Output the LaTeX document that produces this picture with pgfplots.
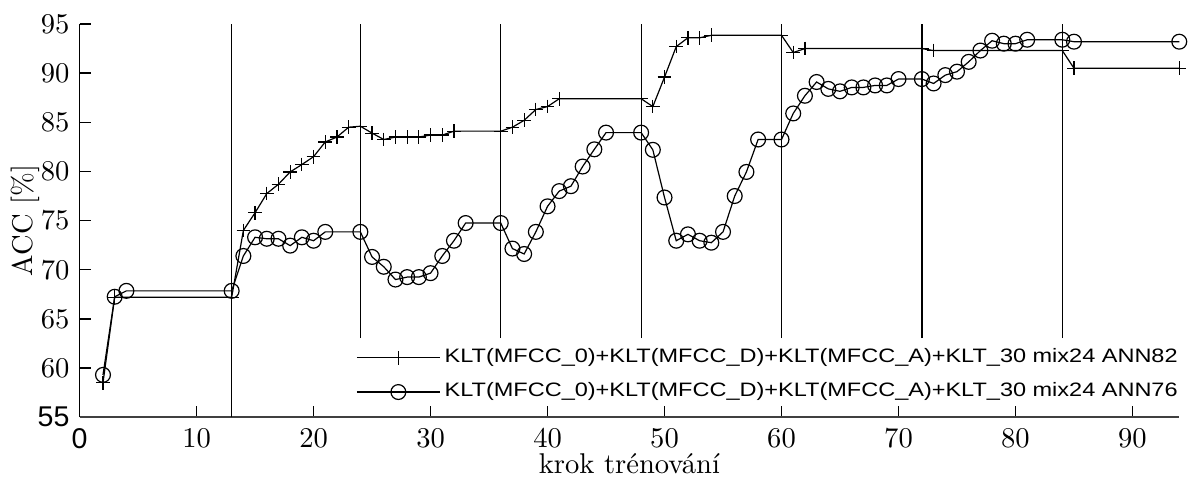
\documentclass[border=0pt]{standalone}
\usepackage{fontspec}
\usepackage{pgfplots}
\pgfplotsset{compat=1.18}
\newfontfamily\gpfont{Liberation Sans}
\newfontfamily\legfont[FakeStretch=1.21]{Liberation Sans}
\begin{document}
\begin{tikzpicture}
\path[use as bounding box] (-27.86pt,-21pt) rectangle (387.94pt,146pt);
\begin{axis}[
  at={(0,0)}, anchor=south west,
  scale only axis, width=384.9pt, height=137.6pt,
  xmin=0, xmax=94, ymin=55, ymax=95,
  axis lines=left, axis line style={-},
  x axis line style={line width=0.7pt, black!75},
  y axis line style={line width=0.5pt},
  tick align=inside, major tick length=3.9pt,
  tick style={black, line width=0.5pt},
  xtick={0,10,...,90}, ytick={55,60,...,95},
  xticklabels={{\gpfont 0},10,20,30,40,50,60,70,80,90},
  yticklabels={{\gpfont 55},60,65,70,75,80,85,90,95},
  xticklabel style={inner sep=0pt, yshift=-3.7pt},
  xlabel={krok trénování}, ylabel={ACC [\%]},
  every axis x label/.style={at={(rel axis cs:0.5,0)}, anchor=north, inner sep=0pt, yshift=-12.6pt},
  every axis y label/.style={at={(rel axis cs:0,0.5)}, rotate=90, anchor=center, yshift=19.1pt},
  legend cell align=left,
  legend style={at={(rel axis cs:1.003,0.187)}, anchor=north east, draw=none, fill=none,
    font=\legfont\fontsize{6.8}{8}\selectfont, row sep=2.6pt, inner sep=0pt,
    nodes={inner sep=1.5pt}},
  legend image code/.code={\draw[mark repeat=2,mark phase=2] plot coordinates {(0pt,0pt) (14.5pt,0pt) (29pt,0pt)};},
  clip=false,
]
\draw[line width=0.42pt] (axis cs:13,55) -- (axis cs:13,95);
\foreach \xx in {24,36,48,60,72,84} {
  \edef\tmp{\noexpand\draw[line width=0.42pt] (axis cs:\xx,63.05) -- (axis cs:\xx,95);}
  \tmp
}
\addplot[black, line width=0.42pt, mark=+, mark size=2.4pt] coordinates {
(2,58.5) (3,67.2) (13,67.2) (14,74.0) (15,75.8) (16,77.75) (17,78.7) (18,79.95) (19,80.7) (20,81.5)
(21,83.0) (22,83.5) (23,84.5) (24,84.6) (25,83.9) (26,83.25) (27,83.5) (28,83.5) (29,83.5) (30,83.7)
(31,83.7) (32,84.1) (36,84.1) (37,84.5) (38,85.2) (39,86.3) (40,86.6) (41,87.4) (48,87.4) (49,86.6)
(50,89.6) (51,92.7) (52,93.6) (53,93.6) (54,93.85) (60,93.85) (61,92.1) (62,92.5) (72,92.5) (73,92.3)
(84,92.3) (85,90.5) (94,90.5)
};
\addlegendentry{KLT(MFCC\_0)+KLT(MFCC\_D)+KLT(MFCC\_A)+KLT\_30 mix24 ANN82}
\addplot[black, line width=0.42pt, mark=o, mark size=2.6pt] coordinates {
(2,59.3) (3,67.25) (4,67.85) (13,67.85) (14,71.4) (15,73.3) (16,73.15) (17,73.15) (18,72.45) (19,73.3)
(20,72.95) (21,73.85) (24,73.85) (25,71.3) (26,70.3) (27,69.0) (28,69.25) (29,69.25) (30,69.65) (31,71.4)
(32,72.95) (33,74.75) (36,74.75) (37,72.15) (38,71.6) (39,73.85) (40,76.45) (41,78.0) (42,78.5) (43,80.5)
(44,82.25) (45,83.95) (48,83.95) (49,82.2) (50,77.35) (51,72.95) (52,73.6) (53,72.95) (54,72.75) (55,73.85)
(56,77.5) (57,79.95) (58,83.25) (60,83.25) (61,85.9) (62,87.7) (63,89.1) (64,88.4) (65,88.15) (66,88.55)
(67,88.55) (68,88.75) (69,88.75) (70,89.4) (72,89.4) (73,88.95) (74,89.8) (75,90.15) (76,91.15) (77,92.3)
(78,93.3) (79,93.0) (80,93.0) (81,93.4) (84,93.4) (85,93.2) (94,93.2)
};
\addlegendentry{KLT(MFCC\_0)+KLT(MFCC\_D)+KLT(MFCC\_A)+KLT\_30 mix24 ANN76}
\end{axis}
\end{tikzpicture}
\end{document}
